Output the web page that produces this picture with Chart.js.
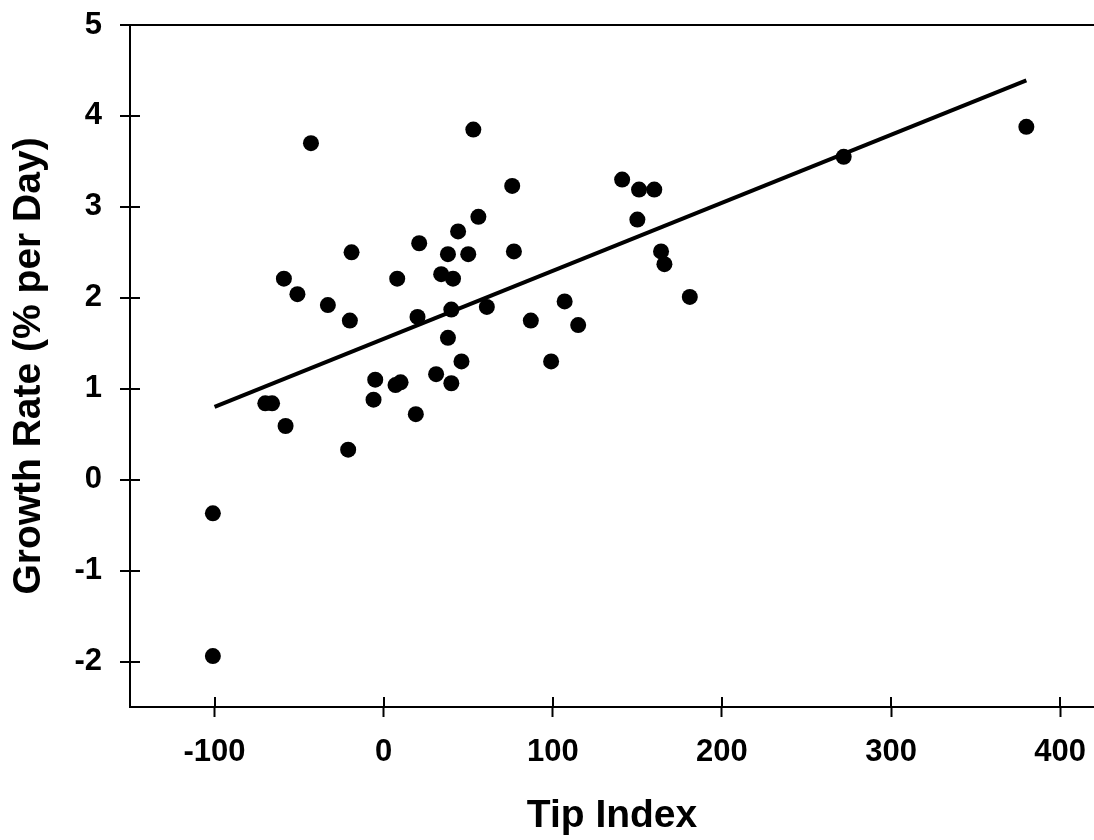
<!DOCTYPE html>
<html>
<head>
<meta charset="utf-8">
<script src="https://cdn.jsdelivr.net/npm/chart.js@4/dist/chart.umd.min.js"></script>
<style>
  html, body { margin: 0; padding: 0; background: #ffffff; }
  #wrap { width: 1094px; height: 840px; }
</style>
</head>
<body>
<div id="wrap"><canvas id="c" width="1094" height="840"></canvas></div>
<script>
// ---- data ----
const tipIndex = [
  -43, 53, 56, 44, 21, -19, 38, 50, -59, 8, 34, 41, -51, -33, -20, 20,
  40, 61, 38, 46, -5, -6, 7, 10, 31, 40, -70, -66, -58, 19, -21,
  76, 77, 107, 87, 115, 99, 141, 151, 160, 150, 164, 166, 181,
  272, 380, -101, -101
];
const growthRate = [
  3.70, 3.85, 2.89, 2.73, 2.60, 2.50, 2.48, 2.48, 2.21, 2.21, 2.26, 2.21, 2.04, 1.92, 1.75, 1.79,
  1.87, 1.90, 1.56, 1.30, 1.10, 0.88, 1.04, 1.07, 1.16, 1.06, 0.84, 0.84, 0.59, 0.72, 0.33,
  3.23, 2.51, 1.96, 1.75, 1.70, 1.30, 3.30, 3.19, 3.19, 2.86, 2.51, 2.37, 2.01,
  3.55, 3.88, -0.37, -1.94
];
const fitX = [-100, 380];
const fitY = [0.80, 4.39];
const xTickValues = [-100, 0, 100, 200, 300, 400];
const yTickValues = [-2, -1, 0, 1, 2, 3, 4, 5];
const xTitle = 'Tip Index';
const yTitle = 'Growth Rate (% per Day)';

// ---- build chart ----
const points = tipIndex.map((x, i) => ({ x: x, y: growthRate[i] }));
const fitLine = fitX.map((x, i) => ({ x: x, y: fitY[i] }));

const FONT = '"Liberation Sans", Arial, Helvetica, sans-serif';

const innerTicks = {
  id: 'innerTicks',
  afterDraw(chart) {
    const ctx = chart.ctx;
    const xs = chart.scales.x, ys = chart.scales.y;
    const area = chart.chartArea;
    ctx.save();
    ctx.strokeStyle = '#000';
    ctx.lineWidth = 2;
    ctx.beginPath();
    xs.ticks.forEach(t => {
      const px = Math.round(xs.getPixelForValue(t.value));
      ctx.moveTo(px, area.bottom);
      ctx.lineTo(px, area.bottom - 10);
    });
    ys.ticks.forEach(t => {
      const py = Math.round(ys.getPixelForValue(t.value));
      ctx.moveTo(area.left, py);
      ctx.lineTo(area.left + 10, py);
    });
    ctx.stroke();
    ctx.restore();
  }
};

const whiteBg = {
  id: 'whiteBg',
  beforeDraw(chart) {
    const ctx = chart.ctx;
    ctx.save();
    ctx.fillStyle = '#ffffff';
    ctx.fillRect(0, 0, chart.width, chart.height);
    ctx.restore();
  }
};

new Chart(document.getElementById('c'), {
  type: 'scatter',
  data: {
    datasets: [
      {
        label: 'Observations',
        data: points,
        backgroundColor: '#000',
        borderColor: '#000',
        pointRadius: 8,
        pointHoverRadius: 8,
        pointBorderWidth: 0
      },
      {
        label: 'Fit',
        data: fitLine,
        showLine: true,
        borderColor: '#000',
        borderWidth: 4,
        pointRadius: 0,
        pointHoverRadius: 0,
        fill: false
      }
    ]
  },
  options: {
    responsive: false,
    animation: false,
    events: [],
    layout: { autoPadding: false, padding: { top: 25, left: 0, right: 0, bottom: 0 } },
    plugins: {
      legend: { display: false },
      tooltip: { enabled: false },
      title: { display: false }
    },
    scales: {
      x: {
        type: 'linear',
        min: -150,
        max: 420,
        afterBuildTicks(scale) { scale.ticks = xTickValues.map(v => ({ value: v })); },
        afterFit(scale) { scale.height = 133; scale.paddingLeft = 0; scale.paddingRight = 0; },
        border: { display: true, color: '#000', width: 2 },
        grid: {
          display: true,
          drawOnChartArea: false,
          drawTicks: true,
          tickLength: 10,
          tickWidth: 2,
          tickColor: '#000'
        },
        ticks: {
          color: '#000',
          padding: 17,
          maxRotation: 0,
          autoSkip: false,
          font: { family: FONT, size: 31, weight: 'bold' }
        },
        title: {
          display: true,
          text: xTitle,
          color: '#000',
          padding: { top: 0, bottom: 0 },
          font: { family: FONT, size: 39, weight: 'bold' }
        }
      },
      y: {
        type: 'linear',
        min: -2.5,
        max: 5,
        afterBuildTicks(scale) { scale.ticks = yTickValues.map(v => ({ value: v })); },
        afterFit(scale) { scale.width = 130; scale.paddingTop = 0; scale.paddingBottom = 0; },
        border: { display: true, color: '#000', width: 2 },
        grid: {
          display: true,
          drawOnChartArea: true,
          drawTicks: true,
          tickLength: 10,
          tickWidth: 2,
          tickColor: '#000',
          lineWidth: 2,
          color: (c) => (c.tick && c.tick.value === 5 ? '#000' : 'rgba(0,0,0,0)')
        },
        ticks: {
          color: '#000',
          padding: 18,
          autoSkip: false,
          font: { family: FONT, size: 31, weight: 'bold' }
        },
        title: {
          display: true,
          text: yTitle,
          color: '#000',
          padding: { top: 6, bottom: 0 },
          font: { family: FONT, size: 39, weight: 'bold' }
        }
      }
    }
  },
  plugins: [whiteBg, innerTicks]
});
</script>
</body>
</html>
